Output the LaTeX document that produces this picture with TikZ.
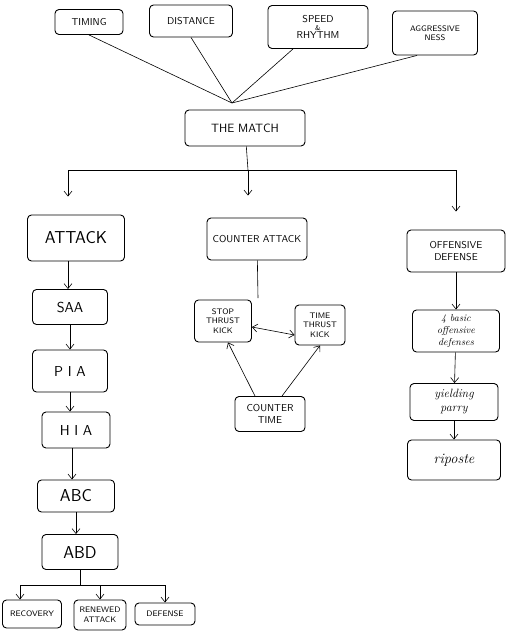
\documentclass[tikz,border=0pt]{standalone}
\usetikzlibrary{arrows.meta}
\begin{document}
\begin{tikzpicture}[x=1pt,y=-1pt,
  box/.style={draw,line width=0.9pt,rounded corners=4pt,align=center,font=\sffamily,inner sep=2pt},
  big/.style={box,font=\sffamily\LARGE},
  tiny/.style={box,font=\sffamily\footnotesize},
  hand/.style={box,font=\itshape},
  link/.style={-{Straight Barb[length=5pt,width=8pt]},line width=0.6pt},
  line/.style={line width=0.6pt}]
\useasboundingbox (0,0) rectangle (519,632);
% top factors
\node[box,minimum width=68pt,minimum height=25pt] (timing) at (89,22) {TIMING};
\node[box,minimum width=83pt,minimum height=32pt] (distance) at (191,21) {DISTANCE};
\node[box,minimum width=100pt,minimum height=43pt] (speed) at (318,27) {SPEED\\[-4pt]{\scriptsize\&}\\[-4pt]RHYTHM};
\node[tiny,minimum width=85pt,minimum height=44pt] (aggr) at (435,33) {AGGRESSIVE\\NESS};
\node[box,font=\sffamily\large,minimum width=120pt,minimum height=36pt] (match) at (245,128) {THE MATCH};
\coordinate (meet) at (232,103);
\draw[line] (timing.south) -- (meet);
\draw[line] (distance.south) -- (meet);
\draw[line] ([xshift=-25pt]speed.south) -- (meet);
\draw[line] ([xshift=-18pt]aggr.south) -- (meet);
% the three ways
\node[big,minimum width=97pt,minimum height=46pt] (attack) at (76,238) {ATTACK};
\node[box,minimum width=100pt,minimum height=42pt] (counter) at (257,239) {COUNTER ATTACK};
\node[box,minimum width=98pt,minimum height=42pt] (offdef) at (456,251) {OFFENSIVE\\DEFENSE};
\coordinate (split) at (248,170);
\draw[line] (match) -- (split);
\draw[link,shorten >=18pt] (split) -| ([xshift=-8pt]attack.north);
\draw[link,shorten >=22pt] (split) -- (split |- counter.north);
\draw[link,shorten >=18pt] (split) -| (offdef.north);
% attack column
\node[box,font=\sffamily\Large,minimum width=75pt,minimum height=35pt] (saa) at (70,307) {SAA};
\node[box,font=\sffamily\Large,minimum width=75pt,minimum height=42pt] (pia) at (70,371) {P I A};
\node[box,font=\sffamily\Large,minimum width=68pt,minimum height=36pt] (hia) at (76,430) {H I A};
\node[big,minimum width=77pt,minimum height=32pt] (abc) at (76,496) {ABC};
\node[big,minimum width=76pt,minimum height=35pt] (abd) at (80,552) {ABD};
\draw[link] ([xshift=-8pt]attack.south) -- ([xshift=-8pt]attack.south |- saa.north);
\draw[link] (saa.south) -- (saa.south |- pia.north);
\draw[link] (pia.south) -- (pia.south |- hia.north);
\draw[link] ([xshift=-4pt]hia.south) -- ([xshift=-4pt]hia.south |- abc.north);
\draw[link] (abc.south) -- (abc.south |- abd.north);
\node[tiny,minimum width=59pt,minimum height=28pt] (recovery) at (32,614) {RECOVERY};
\node[tiny,minimum width=52pt,minimum height=30pt] (renewed) at (100,615) {RENEWED\\ATTACK};
\node[tiny,minimum width=60pt,minimum height=22pt] (defense) at (165,614) {DEFENSE};
\coordinate (fork) at (80,585);
\draw[line] (abd) -- (fork);
\draw[link] (fork) -| ([xshift=-12pt]recovery.north);
\draw[link] (fork) -| (renewed.north);
\draw[link] (fork) -| (defense.north);
% counter attack column
\node[tiny,minimum width=57pt,minimum height=42pt] (stop) at (223,321) {STOP\\THRUST\\KICK};
\node[tiny,minimum width=50pt,minimum height=40pt] (time) at (320,325) {TIME\\THRUST\\KICK};
\node[box,minimum width=70pt,minimum height=35pt] (ctime) at (270,414) {COUNTER\\TIME};
\coordinate (ctend) at (258,298);
\draw[line] (counter) -- (ctend);
\draw[{Straight Barb[length=5pt,width=8pt]}-{Straight Barb[length=5pt,width=8pt]},line width=0.6pt] ([yshift=-6pt]stop.east) -- ([yshift=-10pt]time.west);
\draw[link] ([xshift=-15pt]ctime.north) -- ([xshift=5pt]stop.south);
\draw[link] ([xshift=12pt]ctime.north) -- (time.south);
% offensive defense column
\node[hand,minimum width=87pt,minimum height=42pt] (basic) at (456,331) {4 basic\\offensive\\defenses};
\node[hand,font=\itshape\large,minimum width=88pt,minimum height=37pt] (yield) at (454,402) {yielding\\parry};
\node[hand,font=\itshape\Large,minimum width=93pt,minimum height=40pt] (riposte) at (454,460) {riposte};
\draw[link] (offdef) -- (basic);
\draw[link] (basic) -- (yield);
\draw[link] (yield) -- (riposte);
\end{tikzpicture}
\end{document}
